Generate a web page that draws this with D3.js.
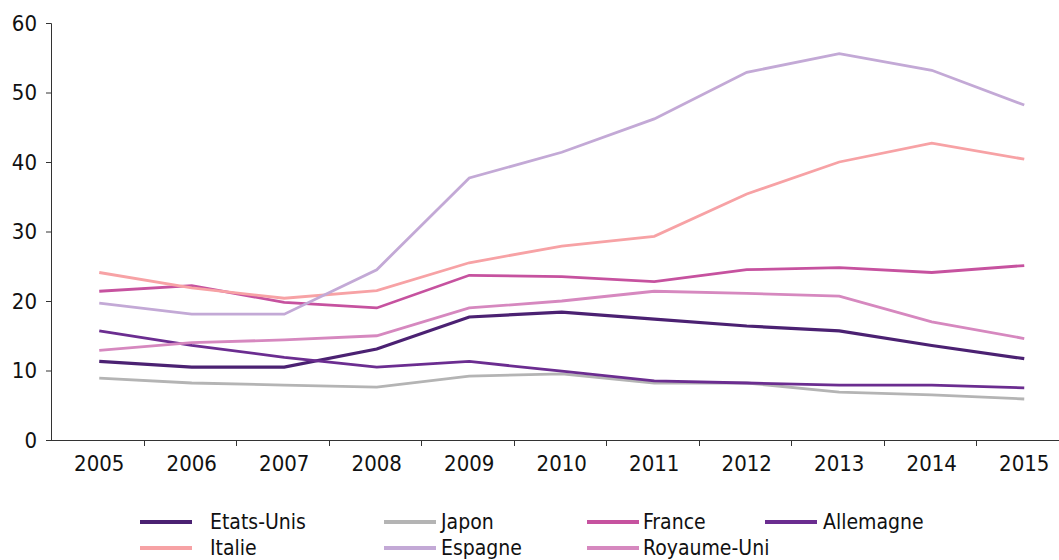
<!DOCTYPE html>
<html>
<head>
<meta charset="utf-8">
<script src="https://cdn.jsdelivr.net/npm/d3@7"></script>
<style>
  html, body { margin: 0; padding: 0; background: #fff; }
  svg { display: block; }
  text { font-family: "Liberation Sans Narrow", "DejaVu Sans Condensed", "Arial Narrow", sans-serif; fill: #111; }
</style>
</head>
<body>
<svg id="chart" width="1059" height="560"></svg>
<script>
// Années
const years = ["2005","2006","2007","2008","2009","2010","2011","2012","2013","2014","2015"];

// Séries par pays
const etatsUnis  = [11.3, 10.5, 10.5, 13.1, 17.7, 18.4, 17.4, 16.4, 15.7, 13.6, 11.7];
const japon      = [8.9, 8.2, 7.9, 7.6, 9.2, 9.5, 8.2, 8.2, 6.9, 6.5, 5.9];
const france     = [21.4, 22.2, 19.8, 19.0, 23.7, 23.5, 22.8, 24.5, 24.8, 24.1, 25.1];
const allemagne  = [15.7, 13.6, 11.9, 10.5, 11.3, 9.9, 8.5, 8.2, 7.9, 7.9, 7.5];
const italie     = [24.1, 21.9, 20.4, 21.5, 25.5, 27.9, 29.3, 35.4, 40.0, 42.7, 40.4];
const espagne    = [19.7, 18.1, 18.1, 24.5, 37.7, 41.4, 46.2, 52.9, 55.6, 53.2, 48.2];
const royaumeUni = [12.9, 14.0, 14.4, 15.0, 19.0, 20.0, 21.4, 21.1, 20.7, 17.0, 14.6];

const seriesNames  = ["Etats-Unis", "Japon", "France", "Allemagne", "Italie", "Espagne", "Royaume-Uni"];
const seriesValues = [etatsUnis, japon, france, allemagne, italie, espagne, royaumeUni];
const seriesColors = ["#4b2172", "#b4b4b4", "#c6529f", "#6b2d90", "#f7a2a5", "#c3a9d6", "#d688bf"];

// Y-axis ticks
const yTicks = [0, 10, 20, 30, 40, 50, 60];

const svg = d3.select("#chart");

const x = d3.scaleBand().domain(years).range([53, 53 + 11 * 92.5]);
const y = d3.scaleLinear().domain([0, 60]).range([440, 23]);

// Axe Y
const yAxis = svg.append("g")
  .attr("transform", "translate(51,0)")
  .call(d3.axisLeft(y).tickValues(yTicks).tickSize(5).tickPadding(9));
yAxis.select(".domain").attr("stroke", "#333").attr("d", "M-5,23.5H0.5V440.5");
yAxis.selectAll(".tick line").attr("stroke", "#333");
yAxis.selectAll("text").style("font-size", "22px").attr("fill", "#111");

// Axe X
const xAxis = svg.append("g")
  .attr("transform", "translate(0,440)")
  .call(d3.axisBottom(x).tickSize(0).tickPadding(15));
xAxis.select(".domain").attr("stroke", "#333").attr("d", "M51,0.5H1059");
xAxis.selectAll("text").style("font-size", "22px").attr("fill", "#111");

// Séparateurs entre années
svg.append("g")
  .selectAll("line")
  .data(years.slice(1))
  .join("line")
  .attr("x1", d => Math.round(x(d) - 2) + 0.5)
  .attr("x2", d => Math.round(x(d) - 2) + 0.5)
  .attr("y1", 440)
  .attr("y2", 446)
  .attr("stroke", "#333");

// Courbes
const line = d3.line()
  .x((d, i) => x(years[i]) + x.bandwidth() / 2)
  .y(d => y(d));

svg.append("g")
  .selectAll("path")
  .data(seriesValues)
  .join("path")
  .attr("d", d => line(d))
  .attr("fill", "none")
  .attr("stroke", (d, i) => seriesColors[i])
  .attr("stroke-width", (d, i) => i === 0 ? 3.2 : 2.8)
  .attr("stroke-linejoin", "miter");

// Légende
const colLine = [140, 384, 587, 765];
const colText = [210, 441, 643, 823];
const rowY = [522, 548];

const legend = svg.append("g")
  .selectAll("g")
  .data(seriesNames)
  .join("g");

legend.append("line")
  .attr("x1", (d, i) => colLine[i % 4])
  .attr("x2", (d, i) => colLine[i % 4] + 52)
  .attr("y1", (d, i) => rowY[Math.floor(i / 4)])
  .attr("y2", (d, i) => rowY[Math.floor(i / 4)])
  .attr("stroke", (d, i) => seriesColors[i])
  .attr("stroke-width", 4);

legend.append("text")
  .attr("x", (d, i) => colText[i % 4])
  .attr("y", (d, i) => rowY[Math.floor(i / 4)])
  .attr("dy", "0.35em")
  .style("font-size", "21px")
  .text(d => d);
</script>
</body>
</html>
